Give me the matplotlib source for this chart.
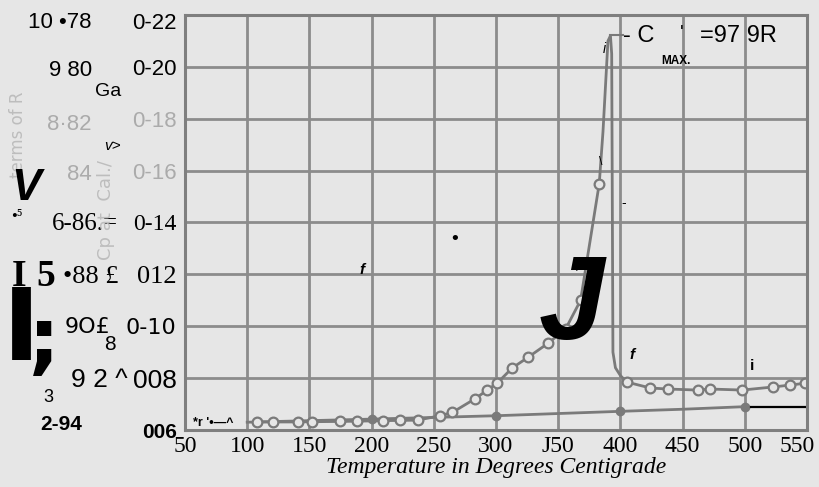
import matplotlib
matplotlib.use("Agg")
import matplotlib.pyplot as plt
import matplotlib.transforms as mtransforms

# specific heat curve (open circles), degrees C vs cal/gm
cp_temp = [108, 121, 141, 152, 175, 188, 199, 209, 223, 237, 255, 265, 283, 293,
           301, 313, 326, 342, 356, 368, 378, 383, 386, 390, 392, 393, 394, 396,
           400, 405, 424, 438, 462, 472, 498, 523, 536, 548]
cp_val = [0.0631, 0.0631, 0.0631, 0.0632, 0.0633, 0.0634, 0.0635, 0.0636, 0.0637,
          0.0638, 0.0655, 0.0668, 0.0720, 0.0754, 0.0781, 0.0839, 0.0881, 0.0935,
          0.0990, 0.1100, 0.1400, 0.1550, 0.1750, 0.2100, 0.2120, 0.2050, 0.0900,
          0.0840, 0.0810, 0.0785, 0.0762, 0.0758, 0.0754, 0.0758, 0.0754, 0.0766,
          0.0773, 0.0780]
cp_marked = [0, 1, 2, 3, 4, 5, 7, 8, 9, 10, 11, 12, 13, 14, 15, 16, 17, 18, 19, 21,
             29, 30, 31, 32, 33, 34, 35, 36, 37]

# lower reference line (solid dots)
low_temp = [100, 200, 300, 400, 450, 500]
low_val = [0.0630, 0.0642, 0.0655, 0.0672, 0.0680, 0.0690]

x_ticks = [50, 100, 150, 200, 250, 300, 350, 400, 450, 500, 550]
x_labels = ["50", "100", "150", "200", "250", "300", "J50", "400", "450", "500", "550"]
y_ticks = [0.06, 0.08, 0.10, 0.12, 0.14, 0.16, 0.18, 0.20, 0.22]
y_labels = ["006", "008", "0-10", "012", "0-14", "0-16", "0-18", "0-20", "0-22"]

bg = "#e6e6e6"
grid_col = "#8c8c8c"
curve_col = "#7a7a7a"
faint = "#ababab"

fig = plt.figure(figsize=(8.2, 4.87), dpi=100, facecolor=bg)
ax = fig.add_axes([185 / 820, 1 - 430 / 487, 622 / 820, 415 / 487], facecolor=bg)


def px(x, y):
    return x / 820, 1 - y / 487


def nudge(lbl, dx, dy):
    lbl.set_transform(lbl.get_transform() +
                      mtransforms.ScaledTranslation(dx / 100, dy / 100, fig.dpi_scale_trans))


ax.plot(low_temp, low_val, color=curve_col, lw=2, marker="o", ms=6,
        mfc=curve_col, mec=curve_col, markevery=[1, 2, 3, 5])
ax.plot(cp_temp, cp_val, color=curve_col, lw=2, marker="o", ms=7,
        mfc=bg, mec=curve_col, mew=1.6, markevery=cp_marked)
# leader to the C max note
ax.plot([392, 402], [0.2123, 0.2123], color=curve_col, lw=1.5)

ax.set_xlim(50, 550)
ax.set_ylim(0.06, 0.22)
ax.set_xticks(x_ticks)
ax.set_xticklabels(x_labels, family="Liberation Serif", fontsize=17)
ax.set_yticks(y_ticks)
ax.set_yticklabels(y_labels, family="Liberation Sans", fontsize=16)
ax.tick_params(length=0, pad=4)
ax.tick_params(axis="y", pad=6)
ax.grid(True, color=grid_col, lw=2)
for s in ax.spines.values():
    s.set_color("#7f7f7f")
    s.set_linewidth(2.2)

# last x label sits a little left of its gridline in the scan
nudge(ax.get_xticklabels()[-1], -10, 0)

# per-label styling of the scanned axis
lbls = ax.get_yticklabels()
lbls[0].set_fontweight("bold")
lbls[0].set_fontsize(15)
lbls[1].set_fontsize(19)
lbls[2].set_family("Liberation Sans Narrow")
lbls[3].set_family("Liberation Serif")
lbls[3].set_fontsize(19)
lbls[4].set_family("Liberation Serif")
lbls[4].set_fontsize(17)
lbls[5].set_color(faint)
lbls[6].set_color(faint)
nudge(lbls[-1], 0, -6)

ax.set_xlabel("Temperature in Degrees Centigrade", family="Liberation Serif",
              style="italic", fontsize=17, labelpad=0)

# left scale in terms of R
left_txt = [
    ("10 •78", 92, 22, dict(family="Liberation Sans", fontsize=16)),
    ("9 80", 92, 70, dict(family="Liberation Sans", fontsize=16)),
    ("8·82", 92, 124, dict(family="Liberation Sans", fontsize=16, color=faint)),
    ("84", 92, 174, dict(family="Liberation Sans", fontsize=16, color=faint)),
    ("6-86.=", 118, 224, dict(family="Liberation Serif", fontsize=18)),
    ("•88 £", 118, 277, dict(family="Liberation Serif", fontsize=19)),
    ("9O£", 110, 327, dict(family="Liberation Sans Narrow", fontsize=16)),
    ("9 2 ^", 128, 380, dict(family="Liberation Sans", fontsize=19)),
    ("2-94", 82, 425, dict(family="Liberation Sans", fontsize=15, fontweight="bold")),
]
for t, x, y, kw in left_txt:
    fig.text(*px(x, y), t, ha="right", va="center", **kw)

fig.text(*px(18, 92), "terms of R", rotation=90, ha="center", va="top",
         fontsize=12, color="#bdbdbd")
fig.text(*px(106, 160), "Cp at  Cal./", rotation=90, ha="center", va="top",
         fontsize=13, color="#bdbdbd")

# stray marks from the scan
marks = [
    ("Ga", 108, 92, dict(family="Liberation Sans", fontsize=14)),
    ("v>", 112, 146, dict(family="Liberation Sans", fontsize=11, style="italic")),
    ("V", 26, 188, dict(family="Liberation Sans", fontsize=32, fontweight="bold", style="italic")),
    ("•\u2075", 17, 217, dict(family=["Liberation Serif", "DejaVu Serif"], fontsize=12)),
    ("I", 19, 276, dict(family="Liberation Serif", fontsize=27, fontweight="bold")),
    ("5", 46, 276, dict(family="Liberation Serif", fontsize=27, fontweight="bold")),
    ("I", 21, 332, dict(family="DejaVu Sans", fontsize=72, fontweight="heavy")),
    (";", 44, 343, dict(family="DejaVu Sans", fontsize=58, fontweight="heavy")),
    ("8", 110, 345, dict(family="Liberation Sans", fontsize=15)),
    ("3", 48, 397, dict(family="Liberation Sans", fontsize=13)),
    ("*r '•—^", 213, 423, dict(family="Liberation Sans", fontsize=9, fontweight="bold")),
    ("f", 362, 270, dict(family="Liberation Sans", fontsize=11, style="italic", fontweight="bold")),
    ("•", 455, 240, dict(family="Liberation Sans", fontsize=14)),
    ("\\", 576, 268, dict(family="Liberation Sans", fontsize=9)),
    ("\\", 601, 162, dict(family="Liberation Sans", fontsize=9)),
    ("-", 624, 203, dict(family="Liberation Sans", fontsize=10)),
    ("i", 604, 49, dict(family="Liberation Sans", fontsize=10, style="italic")),
    ("J", 571, 309, dict(family="Liberation Sans", fontsize=85, fontweight="bold", style="italic")),
    ("f", 632, 355, dict(family="Liberation Sans", fontsize=11, style="italic", fontweight="bold")),
    ("i", 752, 366, dict(family="Liberation Sans", fontsize=11, fontweight="bold")),
    ("- C", 639, 36, dict(family="Liberation Sans", fontsize=17)),
    ("'", 682, 33, dict(family="Liberation Sans", fontsize=14)),
    ("=97 9R", 738, 36, dict(family="Liberation Sans", fontsize=17)),
    ("MAX.", 676, 61, dict(family="Liberation Sans", fontsize=8.5, fontweight="bold")),
]
for t, x, y, kw in marks:
    fig.text(*px(x, y), t, ha="center", va="center", **kw)

# black rule near the lower line
ax.plot([505, 548], [0.0688, 0.0688], color="black", lw=1.6)

fig.savefig("out.png", dpi=100, facecolor=bg)
